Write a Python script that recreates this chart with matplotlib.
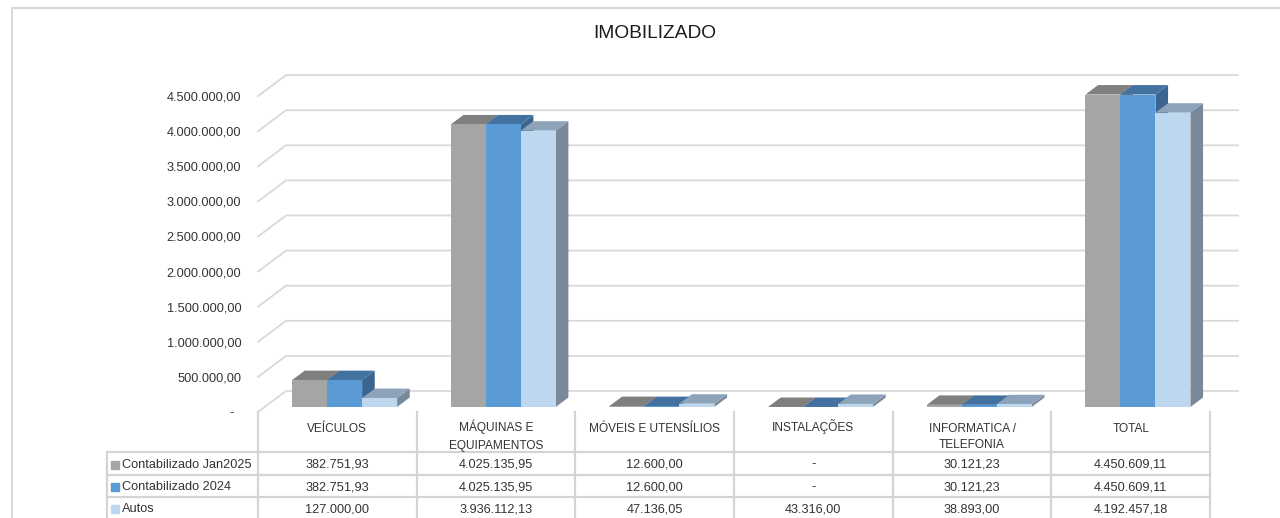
import numpy as np
import matplotlib
matplotlib.use("Agg")
import matplotlib.pyplot as plt
from matplotlib.patches import Polygon
from matplotlib.lines import Line2D

plt.rcParams['font.family'] = ['Liberation Sans', 'DejaVu Sans']

# data
categories = ['VEÍCULOS', 'MÁQUINAS E\nEQUIPAMENTOS', 'MÓVEIS E UTENSÍLIOS',
              'INSTALAÇÕES', 'INFORMATICA /\nTELEFONIA', 'TOTAL']
series_names = ['Contabilizado Jan2025', 'Contabilizado 2024', 'Autos']
jan2025 = [382751.93, 4025135.95, 12600.00, 0.0, 30121.23, 4450609.11]
c2024 = [382751.93, 4025135.95, 12600.00, 0.0, 30121.23, 4450609.11]
autos = [127000.00, 3936112.13, 47136.05, 43316.00, 38893.00, 4192457.18]
yticks = np.arange(0, 4500001, 500000)

series = [jan2025, c2024, autos]
front_col = ['#A5A5A5', '#5B9BD5', '#BDD7EE']
top_col = ['#7F7F7F', '#4472A0', '#8DA3B9']
side_col = ['#7C7C7C', '#3A6590', '#7A8999']
text_col = '#333333'
grid_col = '#D9D9D9'


def fmt(v):
    if v == 0:
        return '-'
    s = f"{v:,.2f}"
    return s.replace(',', '#').replace('.', ',').replace('#', '.')


W, H = 1280, 518
CAT_PX = 158.67       # pixels per category
VAL_PX = 70.2e-6      # pixels per unit of value
FS = 9.2

fig = plt.figure(figsize=(W / 100, H / 100), dpi=100)

# main chart axes (front plane of the floor)
ax = fig.add_axes([258 / W, (H - 412) / H, 982 / W, 352 / H])
ax.set_xlim(-0.5, -0.5 + 982 / CAT_PX)
ax.set_ylim(0, 352 / VAL_PX)
for s in ax.spines.values():
    s.set_visible(False)
ax.set_xticks([])
ax.set_yticks(yticks)
ax.set_yticklabels([fmt(v) if v else '-  ' for v in yticks], color=text_col, fontsize=FS)
ax.tick_params(axis='y', length=0, pad=12)

DX = 28 / CAT_PX
DY = 21 / VAL_PX
x_left, x_right = -0.5, len(categories) - 0.5

# gridlines: left wall diagonals + back wall
for v in yticks:
    ax.plot([x_left, x_left + DX, x_right + DX], [v, v + DY, v + DY],
            color=grid_col, lw=1.3, zorder=1, clip_on=False)

# 3d-looking bars
bw = 35 / CAT_PX
bx, by = 0.26 * DX, 0.24 * DY
tdx, tdy = 0.45 * DX, 0.45 * DY
z = 2
for i in range(len(categories)):
    x0s = i + bx - 1.5 * bw + np.arange(3) * bw
    for k in range(3):
        v = series[k][i]
        x0 = x0s[k]
        top = by + v
        ax.add_patch(Polygon([(x0 + bw, by), (x0 + bw, top), (x0 + bw + tdx, top + tdy),
                              (x0 + bw + tdx, by + tdy)], closed=True,
                             facecolor=side_col[k], edgecolor='none', zorder=z))
        ax.add_patch(Polygon([(x0, top), (x0 + bw, top), (x0 + bw + tdx, top + tdy),
                              (x0 + tdx, top + tdy)], closed=True,
                             facecolor=top_col[k], edgecolor='none', zorder=z + 0.1))
        ax.bar(x0, v, width=bw, bottom=by, align='edge', color=front_col[k],
               edgecolor='none', zorder=z + 0.2)
        z += 1

fig.text(655 / W, 1 - 34 / H, 'IMOBILIZADO', fontsize=13.8, color='#1a1a1a',
         ha='center', va='center')

# data table
axt = fig.add_axes([258 / W, 0, 982 / W, 106 / H])
axt.set_xlim(ax.get_xlim())
axt.set_ylim(518, 412)
axt.axis('off')


def px2x(px):
    return -0.5 + (px - 258) / CAT_PX


leg_left = px2x(107)
row_lines = [452, 474.5, 497]
row_mid = [464.5, 487, 509]
lkw = dict(color='#D4D4D4', lw=1.6, clip_on=False)
for yl in row_lines:
    axt.plot([leg_left, x_right], [yl, yl], **lkw)
axt.plot([leg_left, leg_left], [452, 520], **lkw)
for b in range(len(categories) + 1):
    axt.plot([b - 0.5, b - 0.5], [412, 520], **lkw)

for i, c in enumerate(categories):
    for j, line in enumerate(c.split('\n')):
        axt.text(i, 431.5 + j * 17, line, ha='center', va='baseline', fontsize=8.6,
                 color=text_col, clip_on=False)
    for k in range(3):
        axt.text(i, row_mid[k], fmt(series[k][i]), ha='center', va='center',
                 fontsize=FS, color=text_col, clip_on=False)

for k in range(3):
    axt.plot([px2x(115)], [row_mid[k]], marker='s', ms=5.5, color=front_col[k],
             linestyle='none', clip_on=False)
    axt.text(px2x(122), row_mid[k], series_names[k], ha='left', va='center',
             fontsize=FS, color=text_col, clip_on=False)

# chart area border
fig.add_artist(Line2D([12 / W, 12 / W, 1], [0, 1 - 8 / H, 1 - 8 / H],
                      color='#D9D9D9', lw=1.5, transform=fig.transFigure))

fig.savefig('out.png', dpi=100)
